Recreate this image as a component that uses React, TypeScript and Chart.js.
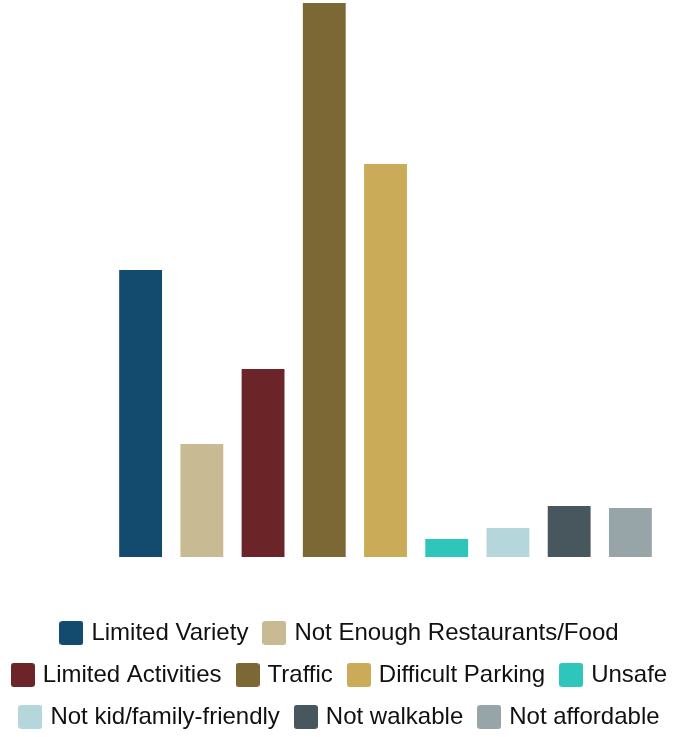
import React, { useEffect, useRef } from "react";
import { Chart, registerables } from "chart.js";

Chart.register(...registerables);

const categories = [
  "Limited Variety",
  "Not Enough Restaurants/Food",
  "Limited Activities",
  "Traffic",
  "Difficult Parking",
  "Unsafe",
  "Not kid/family-friendly",
  "Not walkable",
  "Not affordable",
];
const values = [28.7, 11.3, 18.8, 55.4, 39.3, 1.8, 2.9, 5.1, 4.9];
const colors = [
  "#134B6F",
  "#C8BA92",
  "#6B2427",
  "#7C6834",
  "#CAAB58",
  "#2EC5BA",
  "#B5D6DB",
  "#47575D",
  "#97A5A9",
];
const yMax = 55.7;

function makeSwatch(color: string): HTMLCanvasElement {
  const c = document.createElement("canvas");
  c.width = 24;
  c.height = 24;
  const g = c.getContext("2d")!;
  g.fillStyle = color;
  g.beginPath();
  if ((g as any).roundRect) (g as any).roundRect(0, 0, 24, 24, 3);
  else g.rect(0, 0, 24, 24);
  g.fill();
  return c;
}

export default function App() {
  const ref = useRef<HTMLCanvasElement | null>(null);
  useEffect(() => {
    if (!ref.current) return;
    const swatches = colors.map(makeSwatch);
    const chart = new Chart(ref.current, {
      type: "bar",
      data: {
        labels: categories,
        datasets: [
          {
            data: values,
            backgroundColor: colors,
            borderWidth: 0,
            barPercentage: 0.7,
            categoryPercentage: 1,
          },
        ],
      },
      options: {
        responsive: false,
        animation: false,
        layout: { padding: 0 },
        scales: {
          x: {
            display: false,
            afterFit: (s: any) => {
              s.height = 46;
            },
          },
          y: {
            display: false,
            min: 0,
            max: yMax,
            afterFit: (s: any) => {
              s.width = 129;
            },
          },
          yRight: {
            type: "linear",
            position: "right",
            display: false,
            afterFit: (s: any) => {
              s.width = 40;
            },
          },
        },
        plugins: {
          tooltip: { enabled: false },
          legend: {
            display: true,
            position: "bottom",
            labels: {
              usePointStyle: true,
              pointStyleWidth: 16,
              padding: 18,
              color: "#111111",
              font: { family: "'Liberation Sans', Arial, sans-serif", size: 24 },
              generateLabels: () =>
                categories.map((t, i) => ({
                  text: t,
                  fillStyle: colors[i],
                  strokeStyle: colors[i],
                  lineWidth: 0,
                  pointStyle: swatches[i],
                  hidden: false,
                  index: i,
                  fontColor: "#111111",
                })),
            },
          },
        },
      },
    } as any);
    return () => chart.destroy();
  }, []);
  return (
    <div
      style={{
        position: "fixed",
        left: 0,
        top: 0,
        width: 673,
        height: 737,
        overflow: "hidden",
        background: "#fff",
      }}
    >
      <div style={{ position: "absolute", left: -19, top: 0, width: 720, height: 739 }}>
        <canvas ref={ref} width={720} height={739} style={{ display: "block" }} />
      </div>
    </div>
  );
}
